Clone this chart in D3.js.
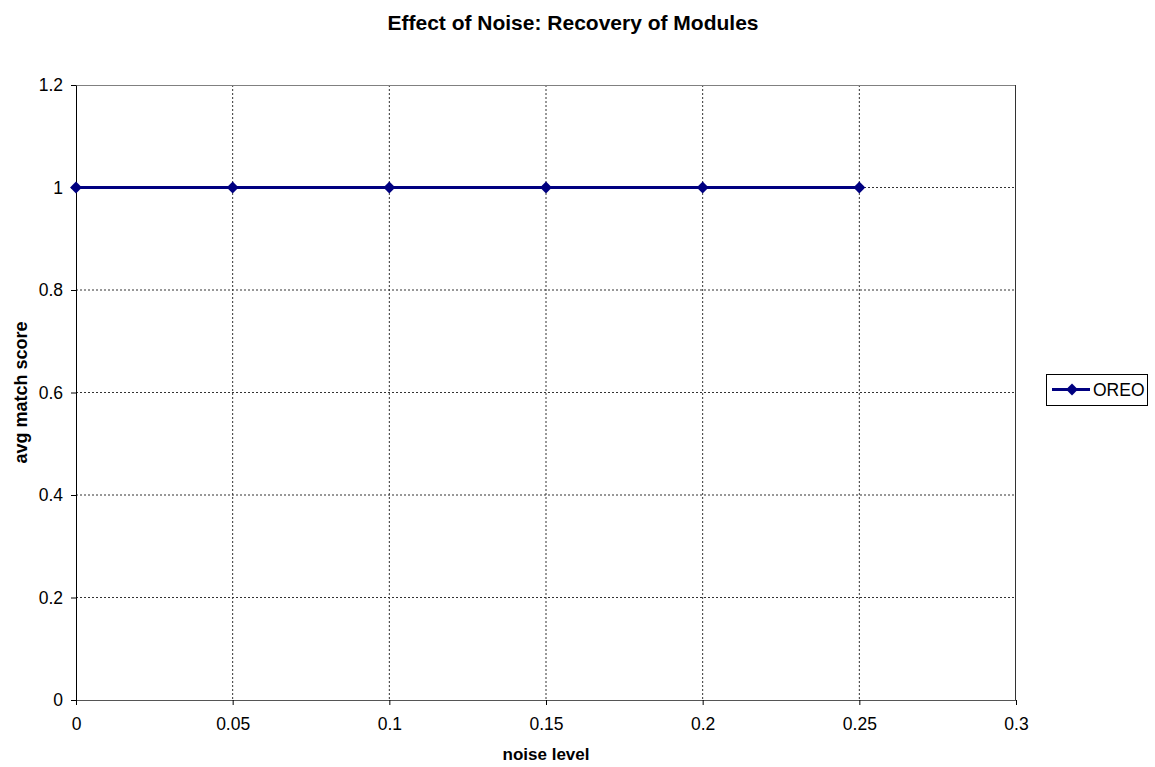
<!DOCTYPE html>
<html>
<head>
<meta charset="utf-8">
<script src="https://cdn.jsdelivr.net/npm/d3@7"></script>
<style>
  body { margin: 0; background: #fff; }
  svg { display: block; font-family: Arial, "Liberation Sans", sans-serif; }
</style>
</head>
<body>
<svg id="chart" width="1155" height="767"></svg>
<script>
// Series data
const noiseLevels = [0, 0.05, 0.1, 0.15, 0.2, 0.25];
const matchScores = [1, 1, 1, 1, 1, 1];
const xTicks = [0, 0.05, 0.1, 0.15, 0.2, 0.25, 0.3];
const yTicks = [0, 0.2, 0.4, 0.6, 0.8, 1, 1.2];
const seriesName = "OREO";

const svg = d3.select("#chart");
const plot = { left: 76, top: 85, right: 1016, bottom: 700 };
const lineColor = "#000080";
const tickFont = 17.5;

const x = d3.scaleLinear().domain([0, 0.3]).range([plot.left, plot.right]);
const y = d3.scaleLinear().domain([0, 1.2]).range([plot.bottom, plot.top]);

// Title
svg.append("text")
  .attr("x", 573).attr("y", 30)
  .attr("text-anchor", "middle")
  .attr("font-size", 21).attr("font-weight", "bold")
  .text("Effect of Noise: Recovery of Modules");

// Gridlines (dotted)
const grid = svg.append("g");
grid.selectAll("line.h").data(yTicks.filter(d => d > 0 && d < 1.2)).join("line")
  .attr("x1", plot.left).attr("x2", plot.right)
  .attr("y1", d => y(d)).attr("y2", d => y(d))
  .attr("stroke", "#333").attr("stroke-width", 1).attr("stroke-dasharray", "2,2");
grid.selectAll("line.v").data(xTicks.filter(d => d > 0 && d < 0.3)).join("line")
  .attr("x1", d => x(d)).attr("x2", d => x(d))
  .attr("y1", plot.top).attr("y2", plot.bottom)
  .attr("stroke", "#333").attr("stroke-width", 1).attr("stroke-dasharray", "2,2");

// Plot area border
svg.append("line").attr("x1", plot.left).attr("x2", plot.right)
  .attr("y1", plot.top + 0.5).attr("y2", plot.top + 0.5)
  .attr("stroke", "#808080");
svg.append("line").attr("x1", plot.right - 0.5).attr("x2", plot.right - 0.5)
  .attr("y1", plot.top).attr("y2", plot.bottom)
  .attr("stroke", "#333");

// Axes
const xAxis = d3.axisBottom(x).tickValues(xTicks).tickSize(5).tickSizeOuter(0)
  .tickFormat(d => String(+d.toFixed(2)));
const yAxis = d3.axisLeft(y).tickValues(yTicks).tickSize(5).tickSizeOuter(0)
  .tickFormat(d => String(+d.toFixed(1)));

const gx = svg.append("g").attr("transform", `translate(0,${plot.bottom})`).call(xAxis);
gx.attr("font-family", null).attr("font-size", null);
gx.select(".domain").attr("stroke", "#555");
gx.selectAll(".tick line").attr("stroke", "#000");
gx.selectAll("text").attr("font-size", tickFont).attr("fill", "#000")
  .attr("y", 30).attr("dy", 0);

const gy = svg.append("g").attr("transform", `translate(${plot.left},0)`).call(yAxis);
gy.attr("font-family", null).attr("font-size", null);
gy.select(".domain").attr("stroke", "#000");
gy.selectAll(".tick line").attr("stroke", "#000");
gy.selectAll("text").attr("font-size", tickFont).attr("fill", "#000").attr("x", -13);

// Axis titles
svg.append("text")
  .attr("x", (plot.left + plot.right) / 2).attr("y", 760)
  .attr("text-anchor", "middle")
  .attr("font-size", 17).attr("font-weight", "bold")
  .text("noise level");
svg.append("text")
  .attr("transform", `translate(27,${(plot.top + plot.bottom) / 2}) rotate(-90)`)
  .attr("text-anchor", "middle")
  .attr("font-size", 18).attr("font-weight", "bold")
  .text("avg match score");

// Series line and diamond markers
const points = noiseLevels.map((n, i) => ({ n, v: matchScores[i] }));
svg.append("path")
  .datum(points)
  .attr("fill", "none").attr("stroke", lineColor).attr("stroke-width", 3)
  .attr("d", d3.line().x(d => x(d.n)).y(d => y(d.v)));

const diamond = d3.symbol().type(d3.symbolDiamond2).size(90);
svg.selectAll("path.marker").data(points).join("path")
  .attr("class", "marker")
  .attr("transform", d => `translate(${x(d.n)},${y(d.v)})`)
  .attr("d", diamond)
  .attr("fill", lineColor);

// Legend
const legend = svg.append("g").attr("transform", "translate(1046,374)");
legend.append("rect").attr("x", 0.5).attr("y", 0.5).attr("width", 101).attr("height", 31)
  .attr("fill", "#fff").attr("stroke", "#000");
legend.append("line").attr("x1", 6).attr("x2", 44).attr("y1", 15.5).attr("y2", 15.5)
  .attr("stroke", lineColor).attr("stroke-width", 3);
legend.append("path").attr("transform", "translate(26,15.5)")
  .attr("d", diamond).attr("fill", lineColor);
legend.append("text").attr("x", 47).attr("y", 22)
  .attr("font-size", tickFont).text(seriesName);
</script>
</body>
</html>
